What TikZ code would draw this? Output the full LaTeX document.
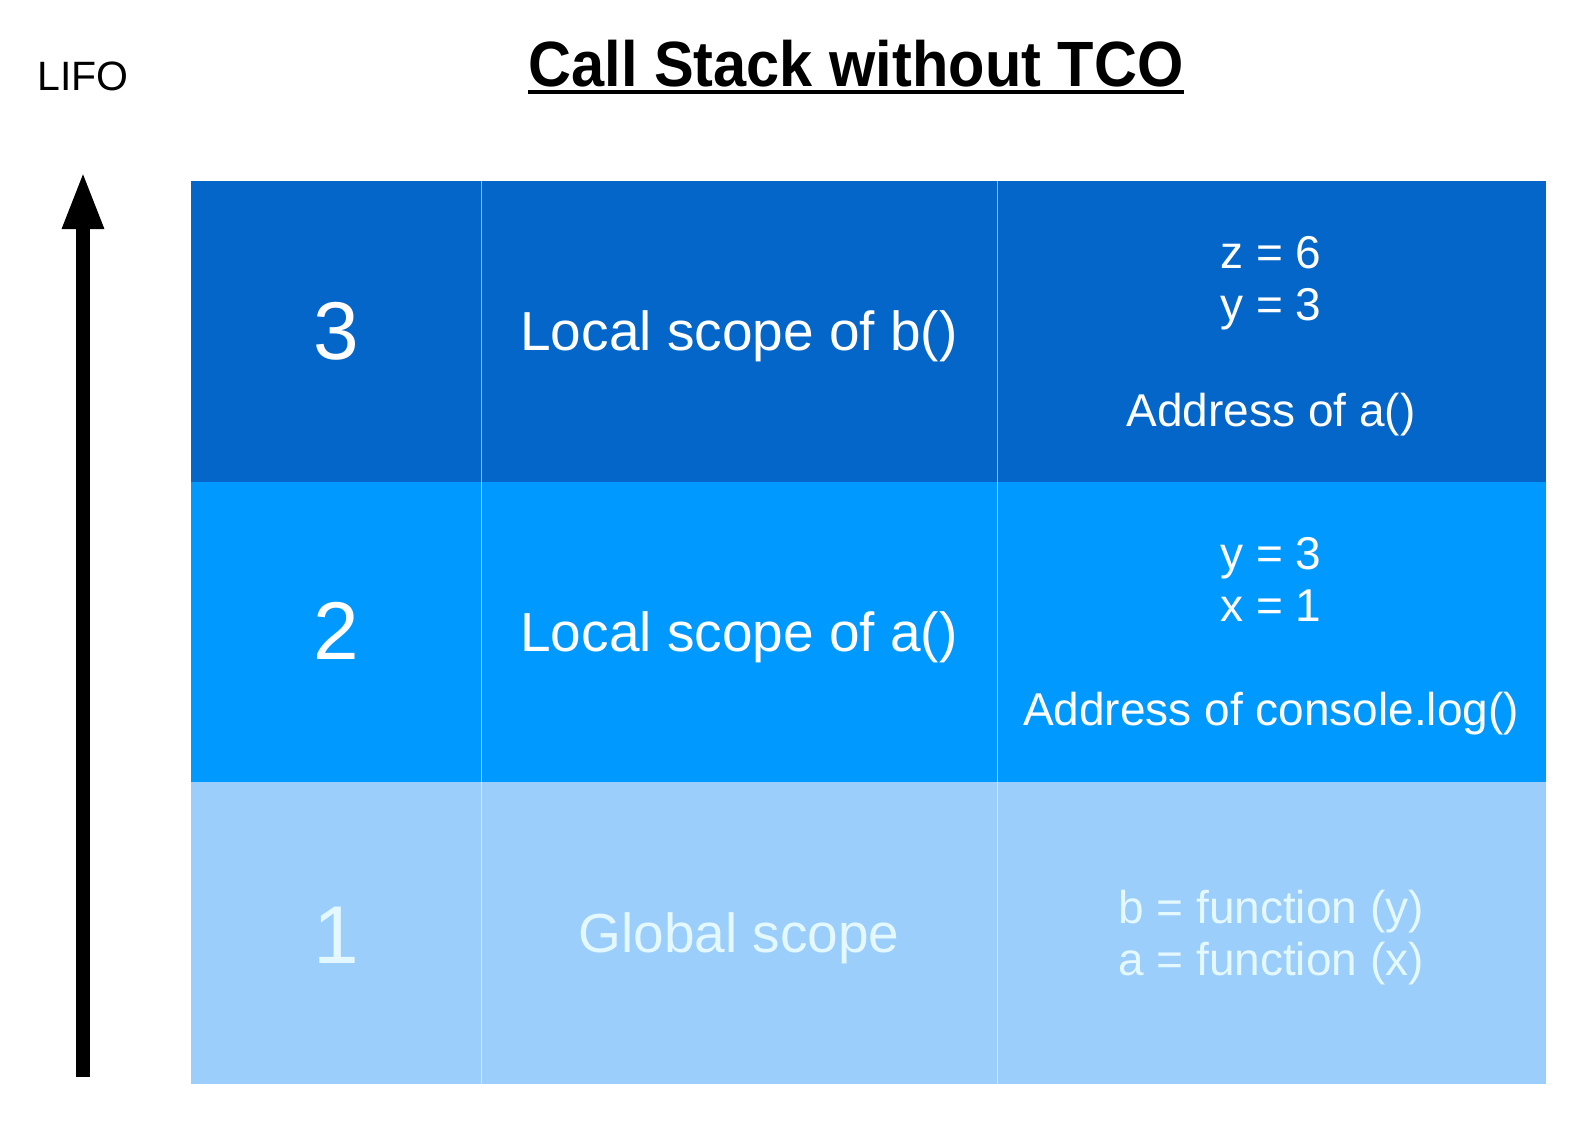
\documentclass[tikz,border=0pt]{standalone}
\usepackage{fontspec}
\setmainfont{Liberation Sans}
\usetikzlibrary{arrows.meta}
\definecolor{rowA}{RGB}{3,102,200}
\definecolor{rowB}{RGB}{0,153,255}
\definecolor{rowC}{RGB}{155,206,250}
\definecolor{txtC}{RGB}{228,248,255}
\tikzset{
  cell/.style={inner sep=0pt, anchor=base, text=white},
  big/.style={cell, font=\fontsize{82}{90}\selectfont},
  mid/.style={cell, font=\fontsize{55}{62}\selectfont},
  small/.style={cell, font=\fontsize{46}{52}\selectfont},
  sep/.style={draw=white, draw opacity=0.55, line width=1pt},
}
\begin{document}
\begin{tikzpicture}[x=1pt,y=-1pt]
\useasboundingbox (0,0) rectangle (1586,1127);
% rows
\fill[rowA] (191,181) rectangle (1546,482);
\fill[rowB] (191,482) rectangle (1546,782);
\fill[rowC] (191,782) rectangle (1546,1084);
\draw[sep] (481.5,181) -- (481.5,1084);
\draw[sep] (997,181) -- (997,1084);
% title
\node[inner sep=0pt, anchor=base, font=\fontsize{64}{70}\selectfont\bfseries, xscale=0.93] (title) at (856,86) {Call Stack without TCO};
\draw[line width=4pt] ([yshift=-6pt]title.base west) -- ([yshift=-6pt]title.base east);
\node[inner sep=0pt, anchor=base, font=\fontsize{41}{46}\selectfont] (lifo) at (83,90) {LIFO};
% arrow
\coordinate (abot) at (83,1077);
\coordinate (atop) at (83,171);
\draw[line width=14pt, -{Triangle[width=38pt,length=58pt]}] (abot) -- (atop);
% row 3
\node[big] (n3) at (336,359) {3};
\node[mid] (s3) at (739,350) {Local scope of b()};
\node[small] (r3a) at (1271,268) {z = 6};
\node[small] (r3b) at (1271,320) {y = 3};
\node[small] (r3c) at (1271,426) {Address of a()};
% row 2
\node[big] (n2) at (336,659) {2};
\node[mid] (s2) at (739,651.5) {Local scope of a()};
\node[small] (r2a) at (1271,569) {y = 3};
\node[small] (r2b) at (1271,621.5) {x = 1};
\node[small] (r2c) at (1271,725) {Address of console.log()};
% row 1
\node[big, text=txtC] (n1) at (336,963) {1};
\node[mid, text=txtC] (s1) at (739,952) {Global scope};
\node[small, text=txtC] (r1a) at (1271,923) {b = function (y)};
\node[small, text=txtC] (r1b) at (1271,975.5) {a = function (x)};
\end{tikzpicture}
\end{document}
